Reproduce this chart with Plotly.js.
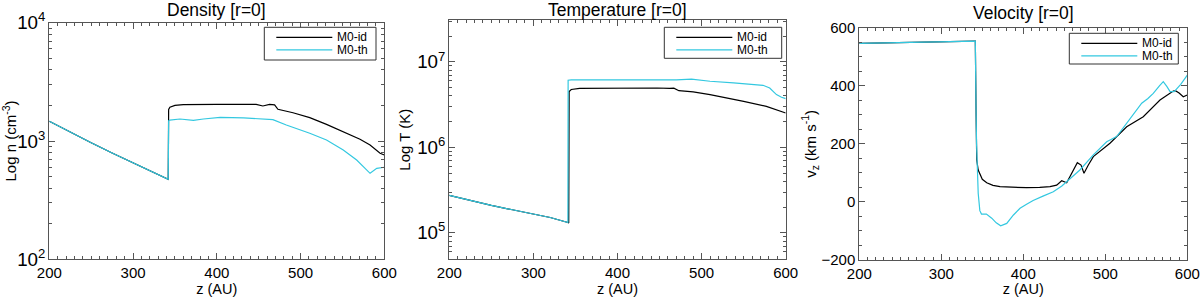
<!DOCTYPE html>
<html>
<head>
<meta charset="utf-8">
<script src="https://cdn.plot.ly/plotly-3.0.1.min.js"></script>
<style>html,body{margin:0;padding:0;background:#fff;}#chart{width:1200px;height:297px;}</style>
</head>
<body>
<div id="chart"></div>
<script>
// ---------- DATA ----------
const seriesNames = ["M0-id", "M0-th"];

// Density, shared pre-shock part
const zDensPre = [200, 225, 250, 275, 300, 320, 342];
const nDensPre = [1470, 1186, 968, 792, 652, 561, 475];
// Density post-shock, M0-id
const zDensId = [342.5, 344, 350, 360, 400, 447, 455, 463, 469, 473, 491, 511, 531, 551, 571, 583, 595, 600];
const nDensId = [1850, 1930, 2000, 2030, 2040, 2040, 1977, 2040, 2020, 1853, 1733, 1574, 1383, 1199, 1034, 925, 787, 762];
// Density post-shock, M0-th
const zDensTh = [342.5, 344, 356, 372, 384, 404, 432, 467, 483, 511, 531, 551, 567, 575, 583, 591, 600];
const nDensTh = [1480, 1504, 1534, 1495, 1534, 1585, 1570, 1514, 1365, 1162, 1019, 839, 691, 610, 533, 587, 600];

// Temperature, shared pre-shock part
const zTempPre = [200, 225, 250, 275, 300, 320, 341];
const tTempPre = [2.74e5, 2.39e5, 2.09e5, 1.86e5, 1.66e5, 1.51e5, 1.32e5];
// Temperature post-shock, M0-id
const zTempId = [342, 342.5, 345, 355, 400, 447, 462, 467, 473, 490, 510, 530, 550, 577, 600];
const tTempId = [1.3e5, 4.5e6, 4.75e6, 4.9e6, 4.95e6, 4.95e6, 4.9e6, 4.92e6, 4.6e6, 4.45e6, 4.14e6, 3.8e6, 3.45e6, 3.02e6, 2.52e6];
// Temperature post-shock, M0-th
const zTempTh = [341.3, 345, 400, 470, 488, 495, 510, 538, 560, 573, 581, 589, 595, 600];
const tTempTh = [6.1e6, 6.15e6, 6.15e6, 6.15e6, 6.3e6, 6.15e6, 5.93e6, 5.67e6, 5.5e6, 5.32e6, 4.95e6, 4.14e6, 3.85e6, 3.72e6];

// Velocity, shared pre-shock part
const zVelPre = [200, 250, 300, 341.5];
const vVelPre = [546, 549, 551, 554];
// Velocity post-shock, M0-id
const zVelId = [342.3, 343.2, 345, 347.2, 350, 355.4, 363, 371.6, 390, 404, 420, 432.6, 440.7, 446.8, 452.9, 459, 465.9, 470.4, 474, 479.3, 485.4, 505.7, 526.1, 546.3, 566.7, 582.9, 585.5, 590, 595.1, 600];
const vVelId = [330, 145, 110, 93, 78, 66, 57, 52.5, 50, 49, 50, 52.5, 58, 73, 66, 98.6, 135, 127, 98.6, 127, 156, 202, 259, 293.5, 351, 382, 383, 375, 362, 368];
// Velocity post-shock, M0-th
const zVelTh = [342.3, 343, 345, 347, 349, 355, 361.5, 367, 372.4, 379.8, 388, 396, 404, 412, 424, 436.6, 447, 456.9, 469, 485.4, 501.7, 513.9, 526.1, 535, 544.4, 552, 558.5, 566, 570.7, 575, 579, 584, 592, 600];
const vVelTh = [330, 200, 30, -30, -42, -42, -56, -72, -82, -74, -45, -22, -8, 5, 20, 35, 55, 81, 110, 162, 207, 225, 271, 305, 340, 356, 374, 400, 414, 398, 380, 380, 405, 437];

const titles = ["Density [r=0]", "Temperature [r=0]", "Velocity [r=0]"];
const yTitles = ["Log n (cm<sup>-3</sup>)", "Log T (K)", "v<sub>z</sub> (km s<sup>-1</sup>)"];
const xTitle = "z (AU)";

// ---------- STYLE ----------
const colors = ["#000000", "#33c8e0"];
const FONT = "Liberation Sans, Arial, Helvetica, sans-serif";
const frameCol = "#555555";

function tr(x, y, k, xa, ya) {
  return {x: x, y: y, name: seriesNames[k], type: "scatter", mode: "lines",
    line: {color: colors[k], width: 1.2}, xaxis: xa, yaxis: ya, showlegend: false};
}

const traces = [
  tr(zDensPre.concat(zDensId), nDensPre.concat(nDensId), 0, "x", "y"),
  tr(zDensPre.concat(zDensTh), nDensPre.concat(nDensTh), 1, "x", "y"),
  tr(zTempPre.concat(zTempId), tTempPre.concat(tTempId), 0, "x2", "y2"),
  tr(zTempPre.concat(zTempTh), tTempPre.concat(tTempTh), 1, "x2", "y2"),
  tr(zVelPre.concat(zVelId), vVelPre.concat(vVelId), 0, "x3", "y3"),
  tr(zVelPre.concat(zVelTh), vVelPre.concat(vVelTh), 1, "x3", "y3")
];

const W = 1200, H = 297;
function xd(a, b) { return [a / W, b / W]; }
function yd(top, bottom) { return [1 - bottom / H, 1 - top / H]; }
const px = v => v / W, py = v => 1 - v / H;

function xax(dom, anchor) {
  return {domain: dom, anchor: anchor, range: [200, 600], tick0: 0, dtick: 100,
    ticks: "inside", ticklen: 6, tickcolor: frameCol, showline: true, linecolor: frameCol, linewidth: 1,
    mirror: "ticks", showgrid: false, zeroline: false,
    minor: {ticks: "inside", ticklen: 3, dtick: 10, tickcolor: frameCol, showgrid: false},
    tickfont: {family: FONT, size: 15, color: "#000"},
    title: {text: xTitle, font: {family: FONT, size: 14.5, color: "#000"}, standoff: 1}};
}
function yax(dom, anchor, extra) {
  const o = {domain: dom, anchor: anchor, ticks: "inside", ticklen: 6, tickcolor: frameCol,
    showline: true, linecolor: frameCol, linewidth: 1, mirror: "ticks", showgrid: false, zeroline: false,
    tickfont: {family: FONT, size: 15, color: "#000"}};
  return Object.assign(o, extra);
}

// legend boxes [x0, x1, y0, y1] in pixels, one per panel
const legendBoxes = [[264.3, 376, 27.3, 60], [664.3, 781.7, 27.3, 58.3], [1069.3, 1178.3, 33.3, 64]];
const shapes = [], annotations = [];
legendBoxes.forEach(b => {
  shapes.push({type: "rect", xref: "paper", yref: "paper", x0: px(b[0]), x1: px(b[1]), y0: py(b[3]), y1: py(b[2]),
    line: {color: "#333", width: 1}, fillcolor: "#fff", layer: "above"});
  seriesNames.forEach((nm, k) => {
    const yy = b[2] + 10 + 12.5 * k;
    shapes.push({type: "line", xref: "paper", yref: "paper", x0: px(b[0] + 12), x1: px(b[0] + 68), y0: py(yy), y1: py(yy),
      line: {color: colors[k], width: 1.2}, layer: "above"});
    annotations.push({text: nm, xref: "paper", yref: "paper", x: px(b[0] + 71.5), y: py(yy), xanchor: "left", yanchor: "middle",
      showarrow: false, borderpad: 0, font: {family: FONT, size: 12, color: "#000"}});
  });
});
const titleY = [10, 10, 13];
titles.forEach((t, i) => {
  annotations.push({text: t, xref: (i ? "x" + (i + 1) : "x") + " domain", yref: "paper", x: 0.5, y: py(titleY[i]),
    xanchor: "center", yanchor: "middle", showarrow: false, font: {family: FONT, size: 17.5, color: "#000"}});
});

const layout = {
  width: W, height: H, margin: {l: 0, r: 0, t: 0, b: 0},
  paper_bgcolor: "#fff", plot_bgcolor: "#fff", showlegend: false,
  font: {family: FONT, color: "#000"},
  xaxis: xax(xd(49.3, 384.3), "y"),
  xaxis2: xax(xd(449.3, 785.7), "y2"),
  xaxis3: xax(xd(859.3, 1187.3), "y3"),
  yaxis: yax(yd(22.7, 259.3), "x", {type: "log", range: [2, 4], dtick: 1, exponentformat: "power",
    minor: {ticks: "inside", ticklen: 3, dtick: "D1", tickcolor: frameCol, showgrid: false},
    title: {text: yTitles[0], font: {family: FONT, size: 15, color: "#000"}, standoff: 6}}),
  yaxis2: yax(yd(20, 259.3), "x2", {type: "log", range: [4.69, 7.49], dtick: 1, exponentformat: "power",
    minor: {ticks: "inside", ticklen: 3, dtick: "D1", tickcolor: frameCol, showgrid: false},
    title: {text: yTitles[1], font: {family: FONT, size: 15, color: "#000"}, standoff: 2}}),
  yaxis3: yax(yd(27.7, 260), "x3", {range: [-200, 600], tick0: 0, dtick: 200,
    minor: {ticks: "inside", ticklen: 3, dtick: 50, tickcolor: frameCol, showgrid: false},
    title: {text: yTitles[2], font: {family: FONT, size: 15, color: "#000"}, standoff: 1}}),
  shapes: shapes,
  annotations: annotations
};

Plotly.newPlot("chart", traces, layout, {displayModeBar: false, staticPlot: true});
</script>
</body>
</html>
